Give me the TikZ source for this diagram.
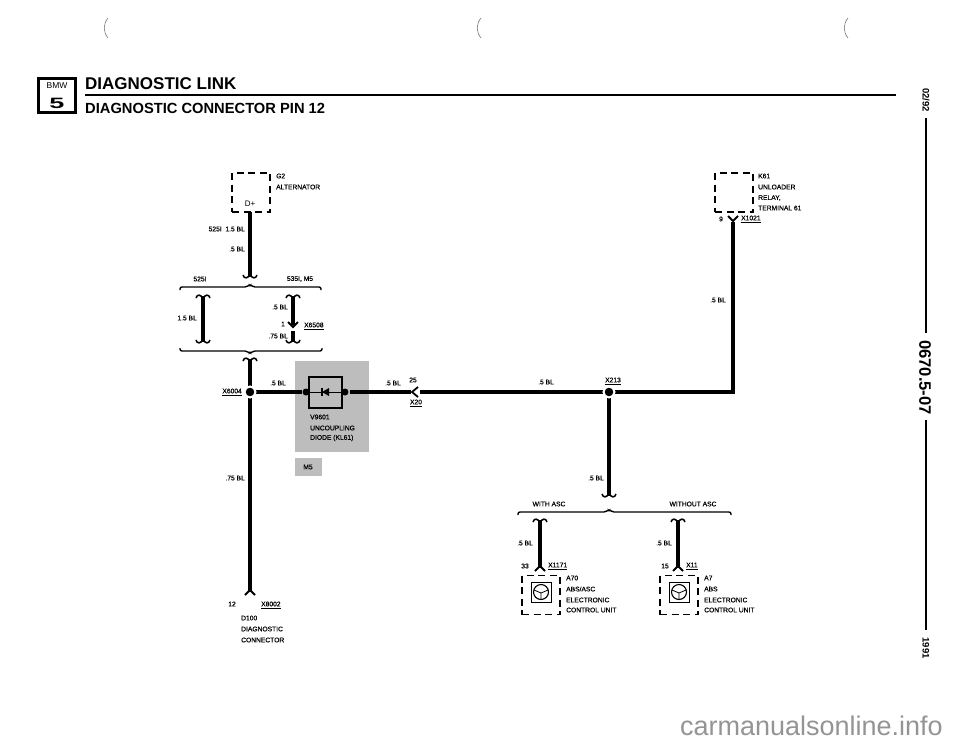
\documentclass[tikz,border=0pt]{standalone}
\usepackage{fontspec}
\setmainfont{Liberation Sans}
\usepackage{tikz}
\definecolor{shadegray}{gray}{0.74}
\definecolor{markgray}{gray}{0.45}
\definecolor{footgray}{gray}{0.58}
\newcommand{\ul}[1]{\underline{#1}}

\begin{document}
\begin{tikzpicture}[x=1pt, y=-1pt,
  lbl/.style={inner sep=0pt, font=\fontsize{6.7}{8}\selectfont\addfontfeature{FakeBold=0.5}},
  lblw/.style={lbl, anchor=west},
  lble/.style={lbl, anchor=east},
  wire/.style={line width=4.6pt},
  bracket/.style={line width=1.4pt, rounded corners=2pt},
  flare/.style={line width=1.5pt},
  dashbox/.style={draw, line width=1.6pt, dash pattern=on 7pt off 4.5pt, minimum width=38pt, minimum height=39pt, inner sep=0pt},
  dot/.style={circle, fill=black, minimum size=7pt, inner sep=0pt},
  hdot/.style={circle, fill=black, draw=white, line width=2pt, minimum size=11pt, inner sep=0pt},
  shaded/.style={fill=shadegray, draw=none, inner sep=0pt},
  forktop/.pic={\draw[flare] (-7,-2) .. controls (-6,2) and (-2,2) .. (0,-3) .. controls (2,2) and (6,2) .. (7,-2);},
  forkend/.pic={\draw[flare] (-7,2) .. controls (-6,-2) and (-2,-2) .. (0,3) .. controls (2,-2) and (6,-2) .. (7,2);},
  chev/.pic={\draw[line width=1.8pt] (-5,-3) -- (0,2) -- (5,-3);},
  chevup/.pic={\draw[line width=1.8pt] (-5,3) -- (0,-2) -- (5,3);},
  ecuicon/.pic={\draw[line width=0.8pt] (-10,-10) rectangle (10,10);
    \draw[line width=1.1pt] (0,0) circle (7.5);
    \draw[line width=0.8pt] (-7,-2) -- (0,1) -- (7,-2) (0,1) -- (0,7);}]
 \useasboundingbox (0,0) rectangle (960,744);
 % scan marks
 \draw[markgray, line width=0.6pt] (108,18) .. controls (103,24) and (103,32) .. (108,38);
 \draw[markgray, line width=0.6pt] (481,18) .. controls (476,24) and (476,32) .. (481,38);
 \draw[markgray, line width=0.6pt] (848,18) .. controls (843,24) and (843,32) .. (848,38);

 % header
 \node[draw, line width=3pt, minimum width=37pt, minimum height=34pt, inner sep=0pt] (logo) at (57,95.5) {};
 \node[inner sep=0pt, font=\fontsize{8.5}{9}\selectfont] (bmw) at (57,86) {BMW};
 \node[inner sep=0pt, xscale=1.8, font=\fontsize{15}{15}\bfseries\selectfont] (five) at (57,103) {5};
 \node[lblw, font=\fontsize{17}{17}\bfseries\selectfont] (title) at (85,84) {DIAGNOSTIC LINK};
 \node[lblw, font=\fontsize{14.7}{15}\bfseries\selectfont] (subtitle) at (85,108) {DIAGNOSTIC CONNECTOR PIN 12};
 \coordinate (ruleL) at (85,95);
 \coordinate (ruleR) at (896,95);
 \draw[line width=2.2pt] (ruleL) -- (ruleR);

 % margin
 \node[lbl, rotate=-90, font=\fontsize{9.5}{10}\bfseries\selectfont] (date) at (926,100) {02/92};
 \node[lbl, rotate=-90, font=\fontsize{16.6}{17}\bfseries\selectfont] (docno) at (925,377.5) {0670.5-07};
 \node[lbl, rotate=-90, font=\fontsize{9.5}{10}\bfseries\selectfont] (year) at (926,648) {1991};
 \coordinate (mA) at (926,118);
 \coordinate (mB) at (926,333);
 \coordinate (mC) at (926,420);
 \coordinate (mD) at (926,630);
 \draw[line width=2.2pt] (mA) -- (mB);
 \draw[line width=2.2pt] (mC) -- (mD);

 % shaded
 \node[shaded, minimum width=74pt, minimum height=91pt] (m5area) at (332,406.5) {};
 \node[shaded, minimum width=27pt, minimum height=18pt] (m5tag) at (308.5,467) {};
 \node[lbl] (m5txt) at (308,467) {M5};

 % G2
 \node[dashbox] (G2) at (251,192.5) {};
 \node[lblw] (G2a) at (276,176) {G2};
 \node[lblw] (G2b) at (276,187) {ALTERNATOR};
 \node[lbl, font=\fontsize{8}{9}\selectfont] (Dp) at (250,204) {D+};
 \coordinate (g2top) at (250,212);
 \coordinate (g2end) at (250,277);
 \draw[wire] (g2top) -- (g2end);
 \pic at (g2end) {forktop};
 \node[lble] (l1) at (245,229) {525I\ \ 1.5 BL};
 \node[lble] (l2) at (245,249) {.5 BL};

 % first split
 \node[lbl] (v525) at (200,279) {525I};
 \node[lbl] (v535) at (300,279) {535I, M5};
 \draw[bracket] (180,290) -- (180,287) -- (247,287) -- (250,284.5) -- (253,287) -- (321,287) -- (321,290);
 \draw[bracket] (180,348) -- (180,351) -- (247,351) -- (250,353.5) -- (253,351) -- (322,351) -- (322,348);
 \coordinate (aTop) at (203,296);
 \coordinate (aBot) at (203,342);
 \draw[wire] (aTop) -- (aBot);
 \pic at (aTop) {forkend};
 \pic at (aBot) {forktop};
 \node[lble] (l3) at (197,318) {1.5 BL};
 \coordinate (bTop) at (293,296);
 \coordinate (bMid) at (293,325);
 \coordinate (bLow) at (293,331);
 \coordinate (bBot) at (293,342);
 \draw[wire] (bTop) -- (bMid);
 \draw[wire] (bLow) -- (bBot);
 \pic at (bTop) {forkend};
 \pic at (bBot) {forktop};
 \pic at (bMid) {chev};
 \node[lble] (l4) at (288,307) {.5 BL};
 \node[lbl] (pin1) at (283,324) {1};
 \node[lblw] (X6508) at (304,326) {\ul{X6508}};
 \node[lble] (l5) at (288,336) {.75 BL};

 % down to D100
 \coordinate (cTop) at (250,359);
 \coordinate (cBot) at (250,592);
 \draw[wire] (cTop) -- (cBot);
 \pic at (cTop) {forkend};
 \pic at (cBot) {chevup};
 \node[lble] (X6004) at (242,392) {\ul{X6004}};
 \node[lble] (l6) at (245,478) {.75 BL};
 \node[lbl] (pin12) at (232,604) {12};
 \node[lblw] (X8002) at (261,605) {\ul{X8002}};
 \node[lblw] (D100a) at (241,618) {D100};
 \node[lblw] (D100b) at (241,629) {DIAGNOSTIC};
 \node[lblw] (D100c) at (241,640) {CONNECTOR};

 % diode and main run
 \node[draw, line width=1.5pt, minimum width=33pt, minimum height=31pt, inner sep=0pt] (V9601) at (325.5,392.5) {};
 \node[dot] (dL) at (306,392) {};
 \node[dot] (dR) at (345,392) {};
 \draw[wire] (256,392) -- (dL);
 \node[hdot] (X6004dot) at (250,392) {};
 \draw[line width=0.7pt] (dL) -- (dR);
 \fill (322,392) -- (329,388) -- (329,396) -- cycle;
 \draw[line width=1.2pt] (322,388) -- (322,396);
 \node[lbl] (l7) at (278,383) {.5 BL};
 \node[lblw] (V9601a) at (310,417) {V9601};
 \node[lblw] (V9601b) at (310,428) {UNCOUPLING};
 \node[lblw] (V9601c) at (310,438) {DIODE (KL61)};
 \coordinate (x20L) at (411,392);
 \coordinate (x20R) at (420,392);
 \coordinate (corner) at (733,392);
 \coordinate (k1top) at (733,222);
 \draw[wire] (350,392) -- (x20L);
 \draw[wire] (x20R) -- (corner) -- (k1top);
 \draw[line width=1.8pt] (418,387) -- (412,392) -- (418,397);
 \node[lbl] (l8) at (393,383) {.5 BL};
 \node[lbl] (pin25) at (413,380) {25};
 \node[lbl] (X20) at (416,403) {\ul{X20}};
 \node[lbl] (l9) at (546,382) {.5 BL};
 \node[lbl] (X213) at (613,381) {\ul{X213}};
 \node[lble] (l10) at (726,300) {.5 BL};

 % K61
 \node[dashbox] (K61) at (734,192.5) {};
 \node[lblw] (K61a) at (758,176) {K61};
 \node[lblw] (K61b) at (758,187) {UNLOADER};
 \node[lblw] (K61c) at (758,198) {RELAY,};
 \node[lblw] (K61d) at (758,208) {TERMINAL 61};
 \pic at (733,219) {chev};
 \node[lbl] (pin9) at (721,219) {9};
 \node[lblw] (X1021) at (741,219) {\ul{X1021}};

 % down to the ABS units
 \coordinate (dBot) at (609,496);
 \draw[wire] (609,392) -- (dBot);
 \pic at (dBot) {forktop};
 \node[hdot] (X213dot) at (609,392) {};
 \node[lble] (l11) at (604,478) {.5 BL};
 \node[lbl] (vAsc) at (549,504) {WITH ASC};
 \node[lbl] (vNoAsc) at (693,504) {WITHOUT ASC};
 \draw[bracket] (518,515) -- (518,512) -- (606,512) -- (609,509.5) -- (612,512) -- (731,512) -- (731,515);

 \coordinate (eTop) at (540,520);
 \coordinate (eBot) at (540,568);
 \draw[wire] (eTop) -- (eBot);
 \pic at (eTop) {forkend};
 \pic at (eBot) {chevup};
 \node[lble] (l12) at (533,543) {.5 BL};
 \node[lbl] (pin33) at (525,566) {33};
 \node[lblw] (X1171) at (548,566) {\ul{X1171}};
 \node[dashbox] (A70) at (541,595) {};
 \pic at (541,592) {ecuicon};
 \node[lblw] (A70a) at (566,578) {A70};
 \node[lblw] (A70b) at (566,589) {ABS/ASC};
 \node[lblw] (A70c) at (566,600) {ELECTRONIC};
 \node[lblw] (A70d) at (566,610) {CONTROL UNIT};

 \coordinate (fTop) at (678,520);
 \coordinate (fBot) at (678,568);
 \draw[wire] (fTop) -- (fBot);
 \pic at (fTop) {forkend};
 \pic at (fBot) {chevup};
 \node[lble] (l13) at (672,543) {.5 BL};
 \node[lbl] (pin15) at (665,566) {15};
 \node[lblw] (X11) at (686,566) {\ul{X11}};
 \node[dashbox] (A7) at (679,595) {};
 \pic at (679,592) {ecuicon};
 \node[lblw] (A7a) at (704,578) {A7};
 \node[lblw] (A7b) at (704,589) {ABS};
 \node[lblw] (A7c) at (704,600) {ELECTRONIC};
 \node[lblw] (A7d) at (704,610) {CONTROL UNIT};

 % footer
 \node[anchor=base east, inner sep=0pt, text=footgray, font=\fontsize{27}{27}\selectfont] (site) at (943,735) {carmanualsonline.info};
\end{tikzpicture}
\end{document}
